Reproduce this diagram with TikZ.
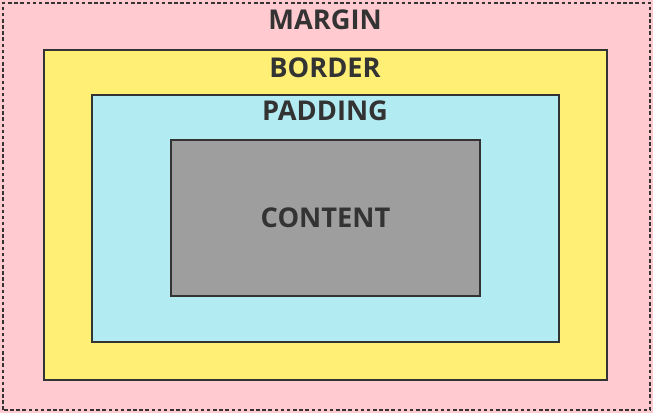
\documentclass[tikz,border=0pt]{standalone}
\usepackage{fontspec}
\setmainfont{Open Sans}
\usepackage{tikz}
\usetikzlibrary{calc}

\definecolor{marginpink}{HTML}{FFCAD0}
\definecolor{borderyellow}{HTML}{FFF075}
\definecolor{paddingcyan}{HTML}{B2EBF2}
\definecolor{contentgray}{HTML}{9E9E9E}
\definecolor{inkdark}{HTML}{333333}

\begin{document}
\begin{tikzpicture}[
    boxline/.style={draw=inkdark, line width=1.2pt},
    boxlabel/.style={text=inkdark, font=\fontsize{15.5}{18}\selectfont\bfseries}
  ]
    \useasboundingbox (0,0) rectangle (13.06,8.26);
    \fill[marginpink] (0,0) rectangle (13.06,8.26);

    \coordinate (M1) at (0.06,0.06);
    \coordinate (M2) at (13.0,8.2);
    \draw[inkdark, dashed, line width=0.6pt, dash pattern=on 2pt off 1.5pt] (M1) rectangle (M2);

    \draw[boxline, fill=borderyellow] (0.88,0.66) rectangle (12.14,7.26);
    \draw[boxline, fill=paddingcyan] (1.84,1.42) rectangle (11.18,6.36);
    \draw[boxline, fill=contentgray] (3.42,2.34) rectangle (9.60,5.46);

    \node[boxlabel] (margin) at (6.5,7.86) {MARGIN};
    \node[boxlabel] (border) at (6.5,6.90) {BORDER};
    \node[boxlabel] (padding) at (6.5,6.04) {PADDING};
    \node[boxlabel] (content) at (6.51,3.90) {CONTENT};
\end{tikzpicture}
\end{document}
